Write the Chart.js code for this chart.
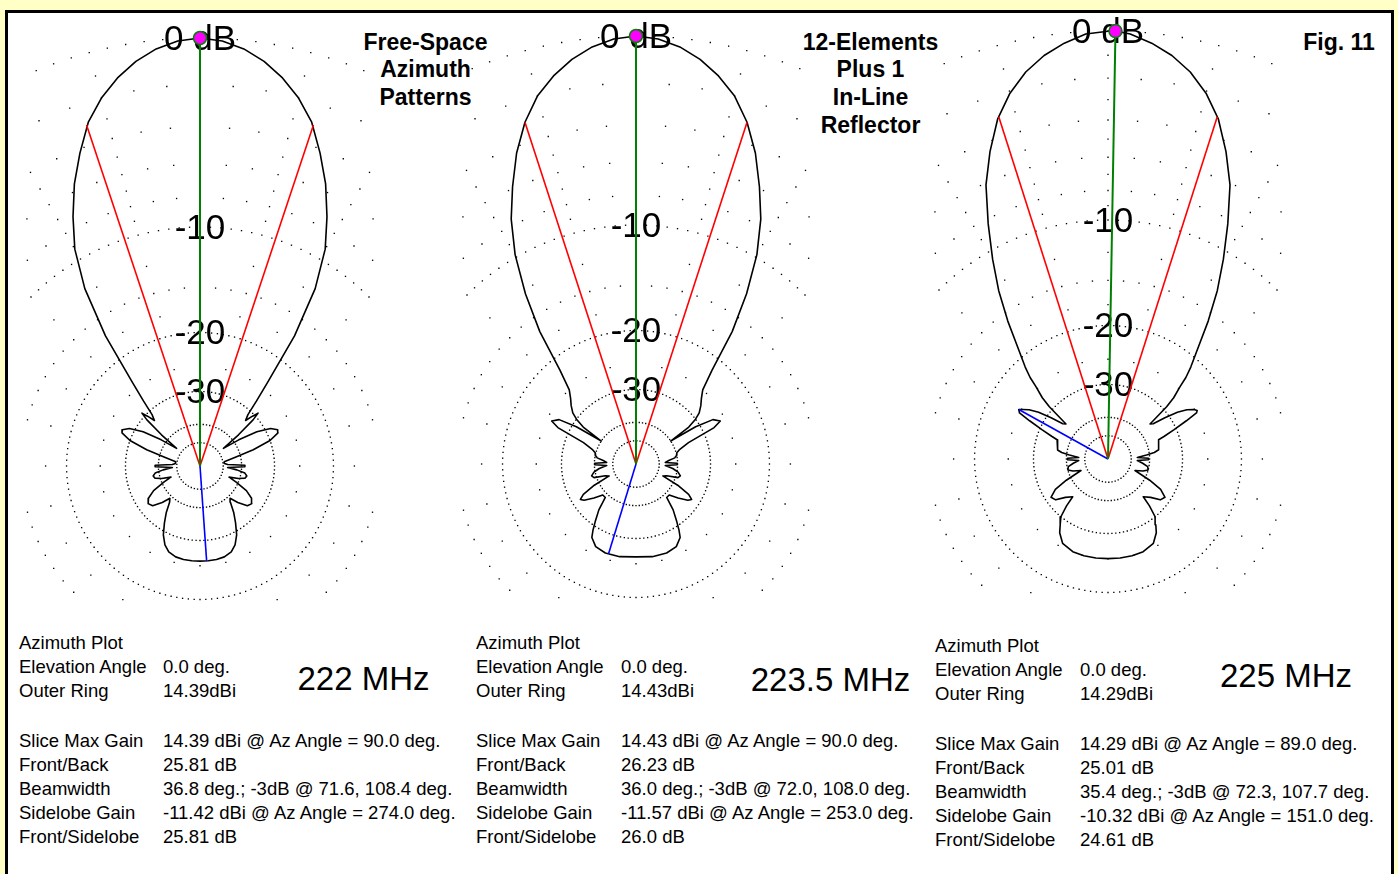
<!DOCTYPE html>
<html><head><meta charset="utf-8">
<title>Free-Space Azimuth Patterns</title>
<script src="https://cdn.jsdelivr.net/npm/chart.js@4.4.1/dist/chart.umd.min.js"></script>
<style>
html,body{margin:0;padding:0;width:1398px;height:874px;overflow:hidden;background:#FFFFC6;font-family:"Liberation Sans",Arial,sans-serif;}
#frame{position:absolute;left:5px;top:10px;width:1383px;height:900px;border:3px solid #000;background:#fff;}
canvas{position:absolute;}
.t{position:absolute;white-space:nowrap;color:#000;line-height:1;}
.title{font-weight:bold;font-size:23px;transform:translateX(-50%);}
.info{font-size:18.5px;}
.mhz{font-size:33px;transform:translateX(-50%);}
</style></head><body>
<div id="frame"></div>
<div id="layer"></div>
<script>
// ---------------- DATA ----------------
// Azimuth angles (deg, 0 = right, 90 = forward/up) and relative gain (dB)
const AZ_1 = [0,1,3,6,10,14,17,20,23,25,28,31,34,37,39,41,42.3,43.5,45,47,49,51,54,57,60,63,66,69,72,75,78,81,84,87,90,
 93,96,99,102,105,108,111,114,117,120,123,126,129,131,133,135,136.5,137.7,139,141,143,146,149,152,155,157,160,163,166,170,174,177,179,180,
 181,183,186,189,192,195,198,201,204,208,212,216,220,224,227,230,234,238,242,246,250,255,260,265,270,
 275,280,285,290,294,298,302,306,310,313,316,320,324,328,332,336,339,342,345,348,351,354,357,359,360];
const DB_1 = [-38.7,-38.7,-47,-49,-49,-42,-35,-30,-27.8,-27.6,-28.8,-32,-38,-46,-37,-31,-29.1,-30.5,-32.5,-31,-27.5,-23.8,-16.8,-12.1,-9.2,-7.3,-5.6,-4.2,-2.9,-2.0,-1.3,-0.75,-0.35,-0.1,0,
 -0.1,-0.35,-0.75,-1.3,-2.0,-2.9,-4.2,-5.6,-7.3,-9.2,-12.1,-16.8,-23.8,-27.5,-31,-32.5,-30.5,-29.1,-31,-37,-46,-38,-32,-28.8,-27.6,-27.8,-30,-35,-42,-49,-49,-47,-38.7,-38.7,
 -38.7,-47,-42,-38.5,-37.6,-38,-40.5,-45,-41,-36,-33.5,-32.6,-33.2,-36,-39,-37.8,-34.5,-31.8,-29.2,-27.5,-26.5,-26.0,-25.85,-25.8,-25.81,
 -25.8,-25.85,-26.0,-26.5,-27.5,-29.2,-31.8,-34.5,-37.8,-39,-36,-33.2,-32.6,-33.5,-36,-41,-45,-40.5,-38,-37.6,-38.5,-42,-47,-38.7,-38.7];

const AZ_2 = [0,1,3,6,9,12,15.5,18,22.2,25,27,30,32,33.5,35,37,39,42,45,48,51,54,57,60,63,66,69,72,75,78,81,84,87,90,
 93,96,99,102,105,108,111,114,117,120,123,126,129,132,135,138,141,143,145,146.5,148,150,153,155,157.8,162,164.5,168,171,174,177,179,180,
 181,183,187,191,195,198,201,204,207,210,212.5,215,219,223,227.5,231,234.5,237,239,244,251,260,270,
 280,289,296,301,303,305.5,309,312.5,317,321,325,327.5,330,333,336,339,342,345,349,353,357,359,360];
const DB_2 = [-40.2,-40.2,-46,-44,-41,-40,-39.7,-38.5,-34.7,-27.5,-25.9,-27,-31,-40,-32.5,-30,-28.5,-27.3,-26.3,-25,-21.7,-16.5,-12.8,-9.8,-7.6,-5.9,-4.3,-3.0,-2.0,-1.3,-0.75,-0.35,-0.1,0,
 -0.1,-0.35,-0.75,-1.3,-2.0,-3.0,-4.3,-5.9,-7.6,-9.8,-12.8,-16.5,-21.7,-25,-26.3,-27.3,-28.5,-30,-32.5,-40,-31,-27,-25.9,-27.5,-34.7,-38.5,-39.7,-40,-41,-44,-46,-40.2,-40.2,
 -40.2,-46,-42,-39.5,-38.3,-39,-44,-46,-38,-33.5,-32.1,-32.8,-35.5,-38.5,-38.5,-34,-31.1,-29,-27.6,-26.4,-26.0,-26.0,-26.23,
 -26.0,-26.0,-26.4,-27.6,-29,-31.1,-34,-38.5,-38.5,-35.5,-32.8,-32.1,-33.5,-38,-46,-44,-39,-38.3,-39.5,-42,-46,-40.2,-40.2];

const AZ_3 = [0,1,3,6,8,10.1,14,18,20.7,22,24,26,27.5,28.5,30,32,34,36,38,39.8,41.7,43,45.1,46.3,48,51,54,57,60,63,66,69,72,75,78,81,84,87,89,90,
 93,96,99,102,105,108,111,114,117,120,123,126,129,132,133.7,134.9,137,138.3,140.2,142,144,146,148,150,151,152.5,154,156,158,159.3,162,166,169.9,172,174,177,179,180,
 181,183,187,191,195.3,199,203,207,210,213.9,218,222,226.9,228.5,230.8,234,236.8,241.7,249.2,256,263,270,
 277,284,290.8,298.3,303.2,306,309.2,311.5,313.1,318,322,326.1,330,333,337,341,344.7,349,353,357,359,360];
const DB_3 = [-40.5,-40.5,-46,-41.2,-38,-36.5,-36.2,-35.8,-35.4,-33.5,-30.5,-27.3,-25,-24.7,-25.1,-26.2,-28,-31,-34.5,-35.3,-29.1,-26.8,-24.6,-22.9,-21.3,-18.8,-15.8,-13.0,-10.6,-8.3,-6.1,-4.5,-3.1,-2.1,-1.35,-0.8,-0.4,-0.1,0,-0.01,
 -0.1,-0.4,-0.8,-1.35,-2.1,-3.1,-4.5,-6.1,-8.3,-10.6,-13.0,-15.8,-18.8,-21.3,-22.9,-24.6,-26.8,-29.1,-35.3,-34.5,-31,-28,-26.2,-25.1,-24.61,-25,-27.3,-30.5,-33.5,-35.4,-35.8,-36.2,-36.5,-38,-41.2,-46,-40.5,-40.5,
 -40.5,-46,-43,-40.5,-40,-42,-46,-38,-33.5,-31.4,-32,-34.5,-36.3,-33,-30.0,-28.5,-27.1,-25.7,-25.1,-25.0,-25.0,-25.01,
 -25.0,-25.0,-25.1,-25.7,-27.1,-28.5,-30.0,-33,-36.3,-34.5,-32,-31.4,-33.5,-38,-46,-42,-40,-40.5,-43,-46,-40.5,-40.5];

const FREQ_LABELS = ['222 MHz','223.5 MHz','225 MHz'];
const ELEVATION = [0.0, 0.0, 0.0];
const OUTER_RING = [14.39, 14.43, 14.29];
const MAX_GAIN = [14.39, 14.43, 14.29];
const MAX_AZ = [90.0, 90.0, 89.0];
const FRONT_BACK = ['25.81','26.23','25.01'];
const BEAMWIDTH = [36.8, 36.0, 35.4];
const BEAM_LO = [71.6, 72.0, 72.3];
const BEAM_HI = [108.4, 108.0, 107.7];
const SIDELOBE_GAIN = [-11.42, -11.57, -10.32];
const SIDELOBE_AZ = [274.0, 253.0, 151.0];
const FRONT_SIDELOBE = ['25.81','26.0','24.61'];

// grid (ring / radial levels in dB) and ring labels
const RING_DB = [0,-10,-20,-30,-40,-50];
const RADIAL_MINOR_DB = [-2,-4,-6,-8,-15];
const RADIAL_MAJOR_DB = [-1,-3,-5,-7,-9,-12.5,-17.5,-25];
const LABEL_DB = [0,-10,-20,-30];
const LABEL_TEXT = ['0 dB','-10','-20','-30'];

const TITLE_LEFT = ['Free-Space','Azimuth','Patterns'];
const TITLE_MID = ['12-Elements','Plus 1','In-Line','Reflector'];
const FIG_LABEL = 'Fig. 11';

// ---------------- LAYOUT ----------------
const CX = [200, 636, 1108], CY = [466, 464, 459];
const RPX = 428, HALF_W = 174, TOP_EXT = 450, BOT_EXT = 136;
const RING_STEP = [2.5, 2.5, 2.5, 3, 4.5, 8];
const COLS = [[19,163],[476,621],[935,1080]];
const ROW_BASE = [643.5, 643.5, 646.5];
const ROW_OFF = [0,24,48,97.5,121.5,145.5,169.5,193.5];
const MHZ_POS = [[363.5,678],[830.5,679],[1286,675]];

// ---------------- HELPERS ----------------
const layer = document.getElementById('layer');
function addText(txt, cls, x, cy, fs){
  const d = document.createElement('div');
  d.className = 't ' + cls; d.textContent = txt;
  d.style.left = x + 'px'; d.style.top = (cy - 0.49*fs) + 'px';
  layer.appendChild(d); return d;
}
function rad(db){ return Math.pow(0.89, -db/2); }
function pt(az, db){ const r = rad(db), a = az*Math.PI/180; return {x:r*Math.cos(a), y:r*Math.sin(a)}; }

function gridPoints(){
  const pts = [];
  RING_DB.forEach((d,i)=>{ const st = RING_STEP[i]; for(let a=0; a<359.99; a+=st) pts.push(pt(a,d)); });
  for(let a=0; a<360; a+=5){
    RADIAL_MINOR_DB.forEach(d=>pts.push(pt(a,d)));
    if(a%15===0) RADIAL_MAJOR_DB.forEach(d=>pts.push(pt(a,d)));
  }
  return pts;
}

const labelPlugin = {
  id:'ringLabels',
  afterDatasetDraw(chart, args){
    if(args.index !== 0) return;
    const ctx = chart.ctx, xs = chart.scales.x, ys = chart.scales.y;
    ctx.save();
    ctx.font = '35px "Liberation Sans", Arial, sans-serif';
    ctx.fillStyle = '#000'; ctx.textAlign = 'center'; ctx.textBaseline = 'middle';
    LABEL_DB.forEach((d,i)=>{ ctx.fillText(LABEL_TEXT[i], xs.getPixelForValue(0), ys.getPixelForValue(rad(d)) + 2); });
    ctx.restore();
  }
};

const AZS = [AZ_1, AZ_2, AZ_3], DBS = [DB_1, DB_2, DB_3];

function makeChart(i){
  const cv = document.createElement('canvas');
  const W = 2*HALF_W, H = TOP_EXT + BOT_EXT;
  cv.width = W; cv.height = H;
  cv.style.width = W+'px'; cv.style.height = H+'px';
  cv.style.left = (CX[i]-HALF_W)+'px'; cv.style.top = (CY[i]-TOP_EXT)+'px';
  document.body.appendChild(cv);
  const pattern = AZS[i].map((a,k)=>pt(a, DBS[i][k]));
  const line = (data, color, w, order)=>({data, showLine:true, pointRadius:0, pointHoverRadius:0, borderColor:color, borderWidth:w, order});
  new Chart(cv, {
    type:'scatter',
    data:{datasets:[
      {data:gridPoints(), showLine:false, pointStyle:'rect', pointRadius:0.95, pointHoverRadius:0, pointBackgroundColor:'#000', backgroundColor:'#000', pointBorderWidth:0, borderWidth:0, order:7},
      Object.assign(line(pattern, '#000000', 1.6, 6), {borderJoinStyle:'round'}),
      line([{x:0,y:0}, pt(BEAM_LO[i], -3)], '#FF0000', 1.6, 5),
      line([{x:0,y:0}, pt(BEAM_HI[i], -3)], '#FF0000', 1.6, 4),
      line([{x:0,y:0}, pt(SIDELOBE_AZ[i], -parseFloat(FRONT_SIDELOBE[i]))], '#0000FF', 1.6, 3),
      line([{x:0,y:0}, pt(MAX_AZ[i], 0)], '#008000', 2, 2),
      {data:[pt(MAX_AZ[i], 0)], showLine:false, pointRadius:6.5, pointHoverRadius:0, pointBackgroundColor:'#FF00FF', pointBorderColor:'#008000', pointBorderWidth:1.5, order:1}
    ]},
    options:{
      responsive:false, animation:false, events:[],
      layout:{padding:0, autoPadding:false},
      plugins:{legend:{display:false}, tooltip:{enabled:false}, title:{display:false}},
      elements:{line:{tension:0}},
      scales:{
        x:{type:'linear', display:false, min:-HALF_W/RPX, max:HALF_W/RPX},
        y:{type:'linear', display:false, min:-BOT_EXT/RPX, max:TOP_EXT/RPX}
      }
    },
    plugins:[labelPlugin]
  });
}

// ---------------- TEXT ----------------
TITLE_LEFT.forEach((s,k)=>addText(s,'title',425.5,42+27.5*k,23));
TITLE_MID.forEach((s,k)=>addText(s,'title',870.5,42+27.7*k,23));
addText(FIG_LABEL,'title',1339,42,23);

for(let i=0;i<3;i++){
  const lab = ['Azimuth Plot','Elevation Angle','Outer Ring','Slice Max Gain','Front/Back','Beamwidth','Sidelobe Gain','Front/Sidelobe'];
  const val = ['',
    ELEVATION[i].toFixed(1)+' deg.',
    OUTER_RING[i].toFixed(2)+'dBi',
    MAX_GAIN[i].toFixed(2)+' dBi @ Az Angle = '+MAX_AZ[i].toFixed(1)+' deg.',
    FRONT_BACK[i]+' dB',
    BEAMWIDTH[i].toFixed(1)+' deg.; -3dB @ '+BEAM_LO[i].toFixed(1)+', '+BEAM_HI[i].toFixed(1)+' deg.',
    SIDELOBE_GAIN[i].toFixed(2)+' dBi @ Az Angle = '+SIDELOBE_AZ[i].toFixed(1)+' deg.',
    FRONT_SIDELOBE[i]+' dB'];
  lab.forEach((s,k)=>{
    const y = ROW_BASE[i]+ROW_OFF[k];
    addText(s,'info',COLS[i][0],y,18.5);
    if(val[k]) addText(val[k],'info',COLS[i][1],y,18.5);
  });
  addText(FREQ_LABELS[i],'mhz',MHZ_POS[i][0],MHZ_POS[i][1],33);
  makeChart(i);
}
</script>
</body></html>
